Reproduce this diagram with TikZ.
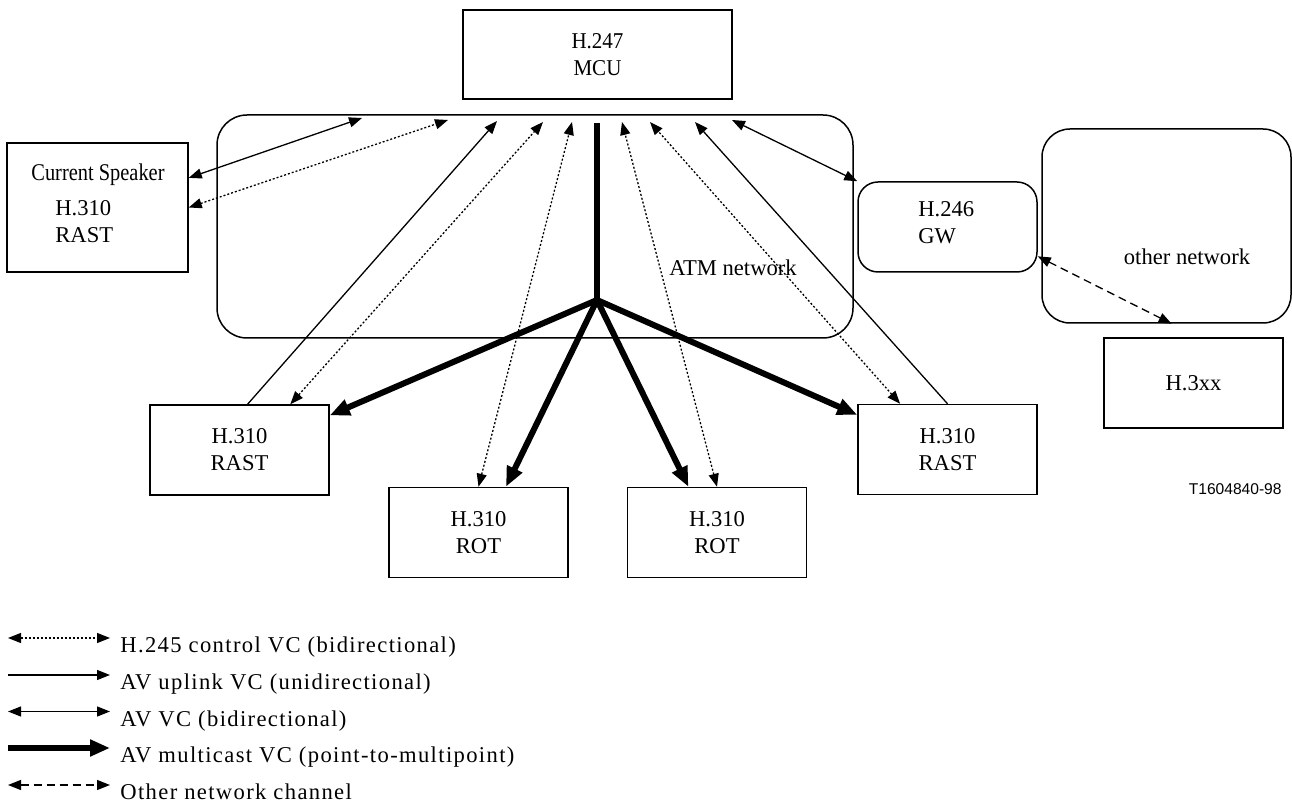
\documentclass[tikz,border=0pt]{standalone}
\usepackage{fontspec}
\setmainfont{Liberation Serif}
\setsansfont{Liberation Sans}
\newfontfamily\narrowfont{Liberation Serif}[FakeStretch=0.93]
\newfontfamily\csfont{Liberation Serif}[FakeStretch=0.85]
\newfontfamily\legendfont{Liberation Serif}[LetterSpace=6]
\usetikzlibrary{arrows.meta}

\begin{document}
\begin{tikzpicture}[x=0.5pt,y=-0.5pt,>={Triangle[length=6.5pt,width=5pt]},
  box/.style={draw,line width=0.75pt,inner sep=0pt,align=center,font=\fontsize{11.3}{13.5}\selectfont},
  termbox/.style={box,minimum width=89.5pt,minimum height=45pt},
  net/.style={box,rounded corners=15pt},
  txt/.style={inner sep=0pt,align=left,font=\fontsize{11.3}{13.5}\selectfont},
  legtxt/.style={anchor=base west,inner sep=0pt,font=\legendfont\fontsize{11.3}{13.5}\selectfont},
  ctrl/.style={<->,line width=0.65pt,dash pattern=on 1pt off 1pt},
  uplink/.style={->,line width=0.65pt},
  avvc/.style={<->,line width=0.65pt},
  mcast/.style={-{Triangle[length=10pt,width=8pt]},line width=3pt},
  othch/.style={<->,line width=0.65pt,dash pattern=on 4pt off 2.5pt}]
\useasboundingbox (0,0) rectangle (1292,806);

% networks
\node[net,minimum width=318pt,minimum height=111.5pt] (atm) at (535,226.5) {};
\node[txt,anchor=base] (atmtxt) at (733,276) {ATM network};
\node[net,rounded corners=14pt,minimum width=124.5pt,minimum height=97pt] (other) at (1166.5,226) {};
\node[txt,anchor=base] (othertxt) at (1187,265) {other network};

% terminals
\node[box,minimum width=134.5pt,minimum height=44.5pt,font=\narrowfont\fontsize{11.3}{13.5}\selectfont] (mcu) at (597.5,54.5) {H.247\\MCU};
\node[box,minimum width=90.5pt,minimum height=64.5pt] (cs) at (97.5,207.5) {};
\node[txt,font=\csfont\fontsize{12}{14}\selectfont] (cstxt) at (98,175) {Current Speaker};
\node[txt,anchor=west] (cstype) at (55,221.5) {H.310\\RAST};
\node[net,rounded corners=10pt,minimum width=89.5pt,minimum height=45pt] (gw) at (947.5,227) {};
\node[txt,anchor=west] (gwtxt) at (918,222.5) {H.246\\GW};
\node[termbox] (h3xx) at (1193.5,383) {H.3xx};
\node[termbox] (rastL) at (239.5,450) {H.310\\RAST};
\node[termbox] (rotL) at (478.5,532.5) {H.310\\ROT};
\node[termbox] (rotR) at (717,532.5) {H.310\\ROT};
\node[termbox] (rastR) at (947.5,449.5) {H.310\\RAST};
\node[inner sep=0pt,anchor=east,font=\sffamily\fontsize{7.8}{9}\selectfont] (tag) at (1282,489) {T1604840-98};

% ends at the MCU
\coordinate (t1) at (362,118);
\coordinate (t2) at (448,120);
\coordinate (t3) at (497,121);
\coordinate (t4) at (543,122);
\coordinate (t5) at (572,122);
\coordinate (top) at (597,123);
\coordinate (t6) at (622,122);
\coordinate (t7) at (650,122);
\coordinate (t8) at (695,122);
\coordinate (t9) at (732,120);
\coordinate (hub) at (597,300);

\path (cs.18) edge[avvc] (t1)
      (cs.east) edge[ctrl] (t2)
      (rastL.80) edge[uplink] (t3)
      (rastL.42) edge[ctrl] (t4)
      (rotL.north) edge[ctrl] (t5)
      (rotR.north) edge[ctrl] (t6)
      (rastR.136) edge[ctrl] (t7)
      (rastR.north) edge[uplink] (t8)
      (gw.north west) edge[avvc] (t9)
      (gw.-18) edge[othch] (other.-87);

\draw[line width=3pt] (top) -- (hub);
\path (hub) edge[mcast] (rastL.21)
            edge[mcast] (rotL.59)
            edge[mcast] (rotR.122)
            edge[mcast] (rastR.159);

% legend
\coordinate (s1) at (8,638);   \coordinate (e1) at (110,638);
\coordinate (s2) at (8,675);   \coordinate (e2) at (110,675);
\coordinate (s3) at (8,711.5); \coordinate (e3) at (110,711.5);
\coordinate (s4) at (8,748);   \coordinate (e4) at (110,748);
\coordinate (s5) at (8,785);   \coordinate (e5) at (110,785);
\draw[ctrl] (s1) -- (e1);
\draw[uplink] (s2) -- (e2);
\draw[avvc] (s3) -- (e3);
\draw[mcast] (s4) -- (e4);
\draw[othch] (s5) -- (e5);
\node[legtxt] (leg1) at (120,653) {H.245 control VC (bidirectional)};
\node[legtxt] (leg2) at (120,690) {AV uplink VC (unidirectional)};
\node[legtxt] (leg3) at (120,726.5) {AV VC (bidirectional)};
\node[legtxt] (leg4) at (120,763) {AV multicast VC (point-to-multipoint)};
\node[legtxt] (leg5) at (120,800) {Other network channel};
\end{tikzpicture}
\end{document}
